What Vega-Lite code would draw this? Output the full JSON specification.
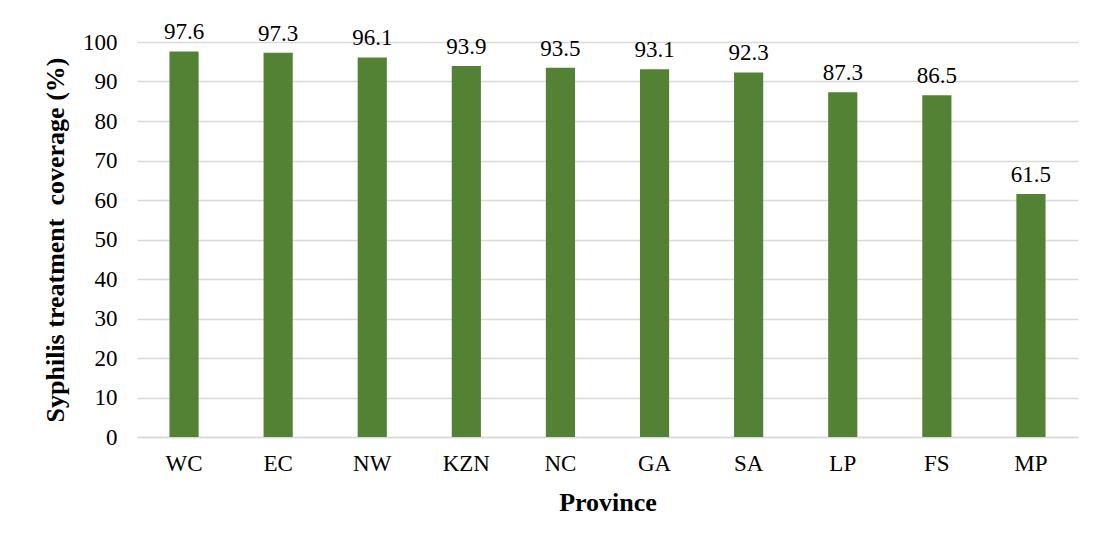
{
  "$schema": "https://vega.github.io/schema/vega-lite/v6.json",
  "width": 941,
  "height": 395,
  "autosize": {"type": "none"},
  "padding": {"left": 137, "top": 42, "right": 16, "bottom": 102},
  "background": "white",
  "config": {
    "font": "Times New Roman, Liberation Serif, serif",
    "view": {"stroke": null},
    "axis": {"labelFont": "Times New Roman, Liberation Serif, serif", "titleFont": "Times New Roman, Liberation Serif, serif", "labelColor": "#000000", "titleColor": "#000000"}
  },
  "data": {
    "values": [
      {"province": "WC", "coverage": 97.6},
      {"province": "EC", "coverage": 97.3},
      {"province": "NW", "coverage": 96.1},
      {"province": "KZN", "coverage": 93.9},
      {"province": "NC", "coverage": 93.5},
      {"province": "GA", "coverage": 93.1},
      {"province": "SA", "coverage": 92.3},
      {"province": "LP", "coverage": 87.3},
      {"province": "FS", "coverage": 86.5},
      {"province": "MP", "coverage": 61.5}
    ]
  },
  "encoding": {
    "x": {
      "field": "province",
      "type": "nominal",
      "sort": null,
      "scale": {"paddingInner": 0.69, "paddingOuter": 0.345},
      "axis": {
        "title": "Province",
        "titleFontSize": 26,
        "titleFontWeight": "bold",
        "titlePadding": 14,
        "labelFontSize": 23,
        "labelAngle": 0,
        "labelPadding": 15,
        "ticks": false,
        "domain": true,
        "domainColor": "#d9d9d9",
        "domainWidth": 1.5,
        "grid": false
      }
    },
    "y": {
      "field": "coverage",
      "type": "quantitative",
      "scale": {"domain": [0, 100], "nice": false},
      "axis": {
        "title": "Syphilis treatment\u00a0 coverage (%)",
        "titleFontSize": 26,
        "titleFontWeight": "bold",
        "titlePadding": 14,
        "labelFontSize": 23,
        "labelPadding": 20,
        "values": [0, 10, 20, 30, 40, 50, 60, 70, 80, 90, 100],
        "ticks": false,
        "domain": false,
        "grid": true,
        "gridColor": "#d9d9d9",
        "gridWidth": 1.5
      }
    }
  },
  "layer": [
    {"mark": {"type": "bar", "color": "#548235"}},
    {
      "mark": {"type": "text", "baseline": "alphabetic", "dy": -12, "fontSize": 23, "font": "Times New Roman, Liberation Serif, serif", "color": "#000000"},
      "encoding": {"text": {"field": "coverage", "type": "quantitative", "format": ".1f"}}
    }
  ]
}
